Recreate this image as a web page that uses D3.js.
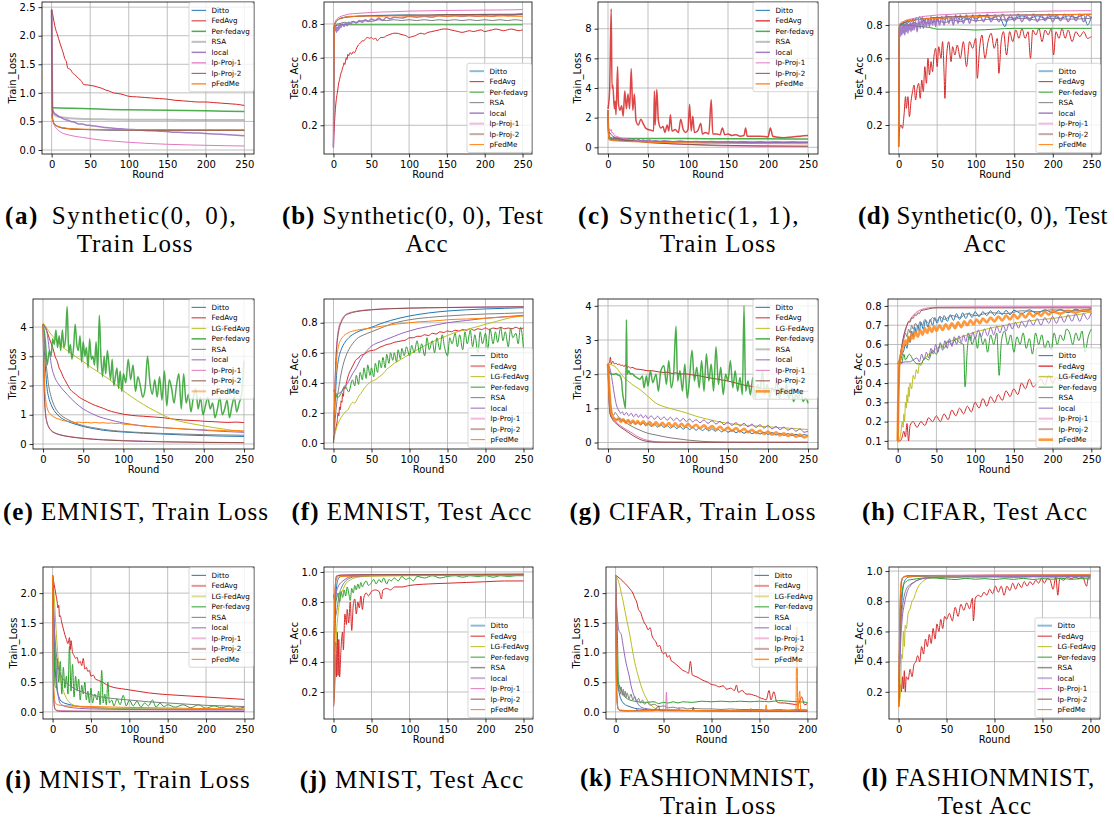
<!DOCTYPE html>
<html>
<head>
<meta charset="utf-8">
<script src="https://cdn.jsdelivr.net/npm/d3@7"></script>
<style>
	body { margin: 0; background: #fff; }
	svg { display: block; }
	.tick text { font-family: "DejaVu Sans", sans-serif; font-size: 10px; fill: #000; }
	.tick line { stroke: #000; stroke-width: 0.8; }
</style>
</head>
<body>
<div id="chart"></div>
<script>

// DATA //

const METHODS_8 = [ 'Ditto', 'FedAvg', 'Per-fedavg', 'RSA', 'local', 'lp-Proj-1', 'lp-Proj-2', 'pFedMe' ];
const METHODS_9 = [ 'Ditto', 'FedAvg', 'LG-FedAvg', 'Per-fedavg', 'RSA', 'local', 'lp-Proj-1', 'lp-Proj-2', 'pFedMe' ];

const X_TICKS_250 = [ 0, 50, 100, 150, 200, 250 ];
const X_TICKS_200 = [ 0, 50, 100, 150, 200 ];
const Y_TICKS_A = [ 0, 0.5, 1, 1.5, 2, 2.5 ];
const Y_TICKS_ACC = [ 0.2, 0.4, 0.6, 0.8 ];
const Y_TICKS_C = [ 0, 2, 4, 6, 8 ];
const Y_TICKS_E = [ 0, 1, 2, 3, 4 ];
const Y_TICKS_F = [ 0, 0.2, 0.4, 0.6, 0.8 ];
const Y_TICKS_H = [ 0.1, 0.2, 0.3, 0.4, 0.5, 0.6, 0.7, 0.8 ];
const Y_TICKS_I = [ 0, 0.5, 1, 1.5, 2 ];
const Y_TICKS_J = [ 0.2, 0.4, 0.6, 0.8, 1.0 ];

// (a) Synthetic(0, 0), Train Loss
const aDitto = [[0,0.62],[2,0.5],[4,0.45],[7,0.42],[10,0.4],[15,0.385],[20,0.375],[30,0.365],[40,0.36],[60,0.355],[80,0.35],[100,0.35],[150,0.348],[200,0.347],[250,0.346]];
const aFedAvg = [[0,2.47],[1,2.4],[3,2.25],[5,2.12],[7,2.04],[9,1.95],[11,1.86],[13,1.78],[15,1.7],[17,1.6],[19,1.55],[21,1.43],[23,1.42],[25,1.4],[27,1.35],[30,1.32],[33,1.28],[35,1.25],[37,1.23],[39,1.2],[41,1.15],[43,1.14],[46,1.14],[50,1.13],[55,1.12],[60,1.1],[65,1.08],[70,1.05],[75,1.03],[80,1.0],[85,0.99],[90,0.98],[95,0.96],[100,0.94],[110,0.93],[120,0.92],[130,0.91],[140,0.9],[150,0.89],[160,0.87],[170,0.86],[180,0.85],[190,0.84],[200,0.84],[210,0.83],[220,0.82],[230,0.81],[240,0.8],[250,0.78]];
const aPerFedavg = [[0,0.74],[10,0.735],[25,0.73],[50,0.72],[75,0.71],[100,0.705],[125,0.7],[150,0.695],[175,0.69],[200,0.685],[225,0.68],[250,0.675]];
const aRSA = [[0,2.45],[1,0.7],[3,0.62],[6,0.6],[10,0.58],[20,0.56],[30,0.55],[50,0.54],[75,0.535],[100,0.53],[150,0.528],[200,0.526],[250,0.525]];
const aLocal = [[0,2.45],[1,0.72],[2,0.68],[4,0.64],[6,0.62],[8,0.6],[10,0.58],[13,0.565],[16,0.54],[20,0.525],[25,0.5],[30,0.485],[35,0.455],[40,0.455],[45,0.435],[50,0.43],[60,0.41],[70,0.395],[80,0.38],[90,0.37],[100,0.36],[110,0.355],[120,0.34],[130,0.338],[140,0.33],[150,0.322],[160,0.31],[170,0.308],[180,0.3],[190,0.296],[200,0.29],[210,0.282],[220,0.275],[230,0.268],[240,0.26],[250,0.25]];
const aLp1 = [[0,2.45],[1,0.55],[2,0.48],[4,0.42],[6,0.38],[10,0.33],[15,0.29],[20,0.27],[25,0.255],[30,0.24],[40,0.22],[50,0.2],[60,0.18],[75,0.16],[100,0.135],[125,0.115],[150,0.1],[175,0.09],[200,0.082],[225,0.075],[250,0.07]];
const aLp2 = [[0,2.45],[1,0.6],[2,0.5],[4,0.445],[7,0.415],[10,0.398],[15,0.383],[20,0.373],[30,0.363],[40,0.358],[60,0.353],[80,0.349],[100,0.348],[150,0.346],[200,0.345],[250,0.344]];
const aPFedMe = [[0,0.62],[1,0.55],[2,0.5],[4,0.45],[7,0.42],[10,0.405],[15,0.39],[20,0.38],[30,0.37],[40,0.365],[60,0.36],[80,0.358],[100,0.356],[150,0.355],[200,0.354],[250,0.353]];

// (b) Synthetic(0, 0), Test Acc
const bDitto = [[0,0.07],[1,0.78],[3,0.81],[5,0.82],[8,0.83],[12,0.835],[16,0.84],[20,0.842],[30,0.845],[40,0.848],[50,0.85],[75,0.852],[100,0.853],[125,0.85],[150,0.855],[175,0.852],[200,0.856],[225,0.853],[250,0.855]];
const bFedAvg = [[0,0.07],[1,0.18],[2,0.26],[3,0.32],[4,0.36],[5,0.39],[6,0.42],[7,0.45],[8,0.47],[9,0.49],[10,0.51],[11,0.52],[12,0.54],[13,0.55],[14,0.57],[15,0.56],[16,0.58],[17,0.6],[18,0.59],[19,0.62],[20,0.61],[22,0.63],[24,0.62],[26,0.635],[28,0.63],[30,0.65],[32,0.67],[34,0.68],[36,0.69],[38,0.7],[40,0.7],[42,0.71],[45,0.72],[48,0.715],[50,0.72],[53,0.71],[56,0.715],[58,0.7],[60,0.71],[63,0.72],[66,0.72],[70,0.73],[73,0.735],[76,0.74],[80,0.745],[84,0.745],[88,0.74],[92,0.735],[96,0.73],[100,0.72],[104,0.725],[108,0.73],[112,0.74],[116,0.745],[120,0.74],[125,0.75],[130,0.755],[135,0.76],[140,0.765],[145,0.77],[150,0.77],[155,0.765],[160,0.76],[165,0.755],[170,0.75],[175,0.755],[180,0.76],[185,0.755],[190,0.76],[195,0.765],[200,0.755],[205,0.76],[210,0.765],[215,0.77],[220,0.765],[225,0.76],[230,0.765],[235,0.77],[240,0.765],[245,0.76],[250,0.765]];
const bPerFedavg = [[0,0.07],[1,0.78],[3,0.79],[10,0.795],[50,0.795],[100,0.795],[150,0.795],[200,0.795],[250,0.795]];
const bRSA = [[0,0.07],[1,0.78],[3,0.795],[6,0.8],[10,0.805],[15,0.81],[20,0.805],[25,0.815],[30,0.81],[40,0.82],[50,0.815],[60,0.825],[70,0.82],[80,0.825],[90,0.82],[100,0.825],[110,0.82],[120,0.825],[130,0.82],[140,0.825],[150,0.82],[160,0.825],[170,0.82],[180,0.825],[190,0.82],[200,0.825],[210,0.82],[220,0.825],[230,0.82],[240,0.825],[250,0.82]];
const bLocal = [[0,0.07],[1,0.78],[2,0.76],[3,0.79],[4,0.75],[5,0.78],[6,0.76],[7,0.79],[8,0.77],[9,0.8],[10,0.78],[12,0.8],[14,0.785],[16,0.805],[18,0.79],[20,0.81],[23,0.8],[26,0.815],[30,0.805],[34,0.82],[38,0.81],[42,0.825],[46,0.815],[50,0.83],[55,0.82],[60,0.835],[65,0.82],[70,0.84],[75,0.83],[80,0.84],[90,0.835],[100,0.845],[110,0.84],[120,0.845],[130,0.84],[140,0.85],[150,0.845],[160,0.85],[170,0.845],[180,0.85],[190,0.845],[200,0.85],[210,0.845],[220,0.855],[230,0.85],[240,0.855],[250,0.86]];
const bLp1 = [[0,0.07],[1,0.79],[3,0.82],[6,0.835],[10,0.845],[15,0.852],[20,0.858],[30,0.862],[40,0.865],[50,0.868],[75,0.872],[100,0.876],[125,0.878],[150,0.88],[175,0.881],[200,0.882],[225,0.883],[250,0.885]];
const bLp2 = [[0,0.07],[1,0.79],[3,0.81],[6,0.825],[10,0.835],[20,0.842],[30,0.845],[50,0.848],[100,0.852],[150,0.855],[200,0.857],[250,0.858]];
const bPFedMe = [[0,0.07],[1,0.79],[3,0.81],[6,0.825],[10,0.835],[15,0.84],[20,0.845],[30,0.846],[40,0.848],[60,0.845],[80,0.848],[100,0.846],[125,0.848],[150,0.846],[175,0.848],[200,0.846],[225,0.847],[250,0.845]];

// (c) Synthetic(1, 1), Train Loss
const cDitto = [[0,2.5],[1,0.6],[3,0.55],[6,0.52],[10,0.5],[20,0.47],[30,0.45],[50,0.42],[75,0.4],[100,0.38],[150,0.36],[200,0.35],[250,0.35]];
const cFedAvg = [[0,2.6],[2,3.8],[4,9.35],[5,4.0],[6,4.2],[8,2.6],[9,3.1],[10,2.2],[12,5.45],[13,3.0],[15,2.5],[17,2.8],[19,2.1],[21,3.8],[23,2.6],[25,3.6],[27,2.6],[29,5.3],[31,2.5],[33,3.6],[35,1.8],[38,1.5],[41,1.9],[44,1.6],[47,1.3],[50,1.2],[54,1.15],[57,1.1],[58,3.8],[59,1.5],[61,3.9],[63,1.8],[66,1.3],[69,1.4],[71,1.0],[74,1.5],[76,1.1],[78,2.2],[80,1.1],[84,1.2],[88,1.0],[91,1.9],[94,1.2],[97,1.0],[100,1.2],[102,2.9],[104,1.1],[106,2.1],[108,1.0],[112,1.1],[116,1.6],[118,0.9],[122,1.0],[126,0.9],[129,3.2],[131,0.9],[136,0.9],[140,0.85],[143,1.3],[146,0.85],[150,0.9],[155,0.8],[160,0.85],[165,0.75],[170,0.8],[172,1.3],[174,0.75],[180,0.75],[190,0.75],[200,0.7],[203,1.3],[206,0.75],[210,0.7],[220,0.65],[230,0.7],[240,0.75],[250,0.8]];
const cPerFedavg = [[0,2.5],[1,0.65],[3,0.62],[10,0.61],[50,0.6],[100,0.59],[150,0.58],[200,0.57],[250,0.56]];
const cRSA = [[0,2.5],[1,0.6],[3,0.55],[5,0.5],[10,0.48],[20,0.45],[30,0.43],[50,0.4],[75,0.38],[100,0.36],[150,0.34],[200,0.33],[250,0.33]];
const cLocal = [[0,2.5],[1,0.9],[2,0.7],[4,0.65],[6,0.55],[8,0.68],[10,0.52],[12,0.66],[14,0.5],[16,0.62],[18,0.48],[20,0.6],[23,0.47],[26,0.58],[29,0.45],[32,0.56],[35,0.44],[38,0.55],[41,0.42],[44,0.5],[47,0.41],[50,0.48],[55,0.4],[60,0.45],[65,0.38],[70,0.44],[80,0.38],[90,0.42],[100,0.36],[110,0.4],[120,0.35],[130,0.39],[140,0.34],[150,0.38],[160,0.34],[170,0.37],[180,0.33],[190,0.37],[200,0.33],[210,0.36],[220,0.32],[230,0.36],[240,0.32],[250,0.35]];
const cLp1 = [[0,2.5],[1,1.0],[2,1.25],[3,1.1],[4,1.2],[5,0.95],[6,1.0],[8,0.8],[10,0.75],[12,0.72],[15,0.65],[18,0.6],[22,0.58],[26,0.52],[30,0.5],[35,0.45],[40,0.42],[45,0.38],[50,0.35],[52,0.6],[54,0.32],[60,0.3],[70,0.27],[80,0.23],[90,0.21],[100,0.18],[110,0.16],[120,0.14],[130,0.12],[140,0.1],[150,0.09],[170,0.08],[190,0.06],[210,0.06],[230,0.05],[250,0.05]];
const cLp2 = [[0,2.5],[1,0.9],[2,1.0],[4,0.85],[6,0.75],[10,0.62],[15,0.55],[20,0.5],[30,0.44],[40,0.38],[50,0.32],[60,0.29],[75,0.25],[100,0.2],[125,0.16],[150,0.13],[175,0.11],[200,0.1],[225,0.09],[250,0.08]];
const cPFedMe = [[0,2.5],[1,0.5],[3,0.47],[6,0.45],[10,0.43],[20,0.4],[30,0.38],[50,0.35],[75,0.32],[100,0.3],[125,0.28],[150,0.27],[175,0.26],[200,0.25],[250,0.24]];

// (d) Synthetic(0, 0), Test Acc
const dDitto = [[0,0.07],[1,0.79],[3,0.81],[5,0.8],[7,0.82],[9,0.81],[11,0.83],[13,0.815],[15,0.835],[17,0.82],[19,0.84],[21,0.825],[23,0.845],[25,0.83],[27,0.85],[29,0.835],[31,0.845],[33,0.82],[36,0.84],[40,0.83],[45,0.845],[50,0.83],[55,0.845],[60,0.835],[65,0.85],[70,0.835],[75,0.85],[80,0.83],[85,0.845],[90,0.835],[95,0.85],[100,0.84],[110,0.855],[120,0.84],[130,0.855],[138,0.79],[142,0.845],[150,0.84],[160,0.855],[170,0.84],[180,0.855],[190,0.84],[200,0.855],[210,0.84],[220,0.855],[230,0.845],[240,0.86],[245,0.8],[250,0.85]];
const dFedAvg = [[0,0.1],[1,0.17],[3,0.2],[5,0.18],[7,0.26],[9,0.37],[10,0.3],[12,0.37],[14,0.25],[16,0.34],[18,0.4],[20,0.44],[22,0.35],[24,0.42],[26,0.45],[28,0.36],[30,0.47],[32,0.4],[34,0.55],[36,0.45],[38,0.6],[40,0.5],[42,0.58],[44,0.52],[46,0.62],[48,0.66],[50,0.55],[52,0.67],[55,0.6],[57,0.7],[59,0.5],[60,0.36],[62,0.6],[65,0.7],[68,0.58],[70,0.67],[73,0.62],[76,0.68],[80,0.6],[84,0.7],[88,0.55],[92,0.7],[96,0.66],[100,0.72],[102,0.48],[105,0.66],[108,0.74],[112,0.6],[116,0.7],[120,0.75],[124,0.66],[128,0.72],[130,0.51],[133,0.7],[136,0.76],[140,0.62],[144,0.76],[148,0.7],[152,0.77],[156,0.72],[160,0.78],[164,0.72],[168,0.76],[171,0.6],[174,0.77],[178,0.74],[182,0.78],[186,0.7],[190,0.77],[194,0.74],[198,0.78],[201,0.62],[204,0.76],[208,0.72],[212,0.78],[216,0.72],[220,0.77],[225,0.7],[230,0.76],[235,0.73],[240,0.76],[245,0.72],[250,0.73]];
const dPerFedavg = [[0,0.07],[1,0.79],[3,0.8],[10,0.8],[20,0.795],[30,0.79],[40,0.785],[45,0.78],[50,0.775],[75,0.775],[100,0.77],[125,0.775],[150,0.78],[175,0.78],[200,0.78],[225,0.78],[250,0.78]];
const dRSA = [[0,0.07],[1,0.78],[3,0.8],[6,0.79],[10,0.81],[15,0.8],[20,0.815],[25,0.805],[30,0.82],[40,0.81],[50,0.825],[60,0.815],[70,0.83],[80,0.82],[90,0.835],[100,0.825],[120,0.835],[140,0.83],[160,0.84],[180,0.83],[200,0.84],[220,0.835],[250,0.84]];
const dLocal = [[0,0.07],[1,0.76],[2,0.73],[3,0.8],[4,0.74],[5,0.79],[6,0.75],[7,0.81],[8,0.74],[9,0.8],[10,0.76],[11,0.82],[12,0.75],[13,0.8],[14,0.77],[15,0.82],[16,0.76],[17,0.81],[18,0.77],[19,0.83],[20,0.77],[22,0.82],[24,0.76],[26,0.83],[28,0.78],[30,0.84],[32,0.78],[34,0.83],[36,0.79],[38,0.84],[40,0.79],[42,0.85],[44,0.8],[46,0.84],[48,0.79],[50,0.85],[53,0.8],[56,0.85],[59,0.8],[62,0.86],[65,0.81],[68,0.85],[71,0.8],[74,0.86],[77,0.81],[80,0.86],[84,0.81],[88,0.86],[92,0.81],[96,0.86],[100,0.82],[105,0.86],[110,0.82],[115,0.865],[120,0.82],[125,0.86],[130,0.82],[135,0.865],[140,0.82],[145,0.86],[150,0.825],[155,0.865],[160,0.82],[165,0.86],[170,0.825],[175,0.865],[180,0.82],[185,0.86],[190,0.825],[195,0.865],[200,0.82],[205,0.86],[210,0.825],[215,0.865],[220,0.82],[225,0.86],[230,0.825],[235,0.865],[240,0.82],[245,0.86],[250,0.84]];
const dLp1 = [[0,0.07],[1,0.8],[3,0.815],[6,0.82],[10,0.83],[15,0.835],[20,0.84],[25,0.845],[30,0.85],[40,0.855],[50,0.86],[60,0.862],[70,0.865],[80,0.868],[90,0.87],[100,0.872],[120,0.875],[140,0.878],[160,0.88],[180,0.882],[200,0.884],[225,0.885],[250,0.886]];
const dLp2 = [[0,0.07],[1,0.79],[3,0.805],[6,0.81],[10,0.82],[20,0.83],[30,0.835],[50,0.845],[75,0.85],[100,0.855],[150,0.86],[200,0.862],[250,0.865]];
const dPFedMe = [[0,0.07],[1,0.8],[3,0.81],[6,0.82],[10,0.825],[20,0.83],[30,0.835],[50,0.84],[75,0.845],[100,0.85],[125,0.855],[150,0.857],[175,0.858],[200,0.86],[225,0.862],[250,0.864]];

// (e) EMNIST, Train Loss
const eDitto = [[0,4.1],[2,3.0],[3,2.6],[5,1.9],[7,1.6],[10,1.35],[15,1.1],[20,0.95],[25,0.85],[30,0.78],[40,0.68],[50,0.6],[60,0.54],[75,0.47],[100,0.41],[125,0.37],[150,0.34],[175,0.31],[200,0.29],[225,0.27],[250,0.26]];
const eFedAvg = [[0,4.1],[3,4.0],[5,3.85],[8,3.6],[10,3.45],[12,3.3],[15,3.0],[18,2.8],[20,2.6],[22,2.5],[25,2.3],[27,2.2],[30,2.05],[33,1.9],[36,1.8],[40,1.72],[45,1.6],[50,1.52],[55,1.45],[60,1.38],[65,1.32],[70,1.27],[75,1.22],[80,1.16],[90,1.08],[100,1.02],[110,0.98],[125,0.95],[140,0.92],[150,0.9],[160,0.86],[175,0.82],[190,0.8],[200,0.78],[215,0.76],[230,0.74],[240,0.75],[250,0.73]];
const eLG = [[0,4.15],[5,3.95],[10,3.75],[15,3.6],[20,3.45],[25,3.3],[30,3.2],[40,3.0],[50,2.82],[60,2.62],[75,2.35],[90,2.05],[100,1.82],[110,1.62],[125,1.35],[140,1.12],[150,0.98],[160,0.86],[175,0.75],[190,0.67],[200,0.62],[215,0.55],[230,0.49],[240,0.45],[250,0.42]];
const ePerFedavg = [[0,4.1],[3,3.5],[5,2.7],[8,3.2],[10,3.0],[12,3.6],[14,3.4],[16,3.9],[18,3.3],[20,3.7],[22,3.2],[24,3.9],[26,3.3],[28,3.6],[30,4.7],[32,3.1],[34,3.4],[36,2.9],[38,3.3],[40,4.1],[42,3.4],[44,3.2],[46,3.7],[48,2.8],[50,3.5],[52,3.0],[54,3.3],[56,2.6],[58,3.6],[60,2.9],[62,3.0],[64,2.7],[66,3.5],[68,2.5],[70,4.4],[72,3.0],[74,2.3],[76,3.0],[78,2.4],[80,3.2],[82,2.7],[84,2.2],[86,2.9],[88,2.0],[90,2.3],[92,2.6],[94,1.9],[96,2.5],[98,1.8],[100,2.4],[103,2.1],[106,2.9],[109,2.2],[112,2.7],[115,1.8],[118,2.3],[121,2.0],[124,1.6],[127,1.9],[130,3.0],[133,2.1],[136,1.7],[139,2.2],[142,1.6],[145,2.3],[148,1.5],[151,2.5],[154,1.3],[157,2.2],[160,1.9],[163,1.4],[166,2.0],[169,2.4],[172,1.2],[175,2.4],[178,1.4],[181,1.7],[184,1.1],[187,1.6],[190,1.9],[193,1.2],[196,1.6],[199,1.0],[202,1.3],[205,1.6],[208,1.2],[211,1.4],[214,0.9],[217,1.2],[220,1.6],[223,1.0],[226,1.2],[229,1.5],[232,0.9],[235,1.3],[238,1.6],[241,1.1],[244,1.4],[247,1.7],[250,2.85]];
const eRSA = [[0,4.1],[2,3.4],[3,3.0],[5,2.45],[7,2.0],[10,1.62],[15,1.25],[20,1.05],[25,0.93],[30,0.85],[40,0.72],[50,0.63],[60,0.57],[75,0.5],[100,0.43],[125,0.39],[150,0.36],[175,0.34],[200,0.32],[225,0.31],[250,0.3]];
const eLocal = [[0,4.1],[3,3.95],[5,3.8],[7,3.4],[9,2.95],[11,2.6],[13,2.4],[15,2.25],[18,2.1],[20,2.02],[25,1.85],[30,1.7],[35,1.55],[40,1.42],[45,1.3],[50,1.2],[55,1.12],[60,1.05],[70,0.93],[80,0.85],[90,0.78],[100,0.72],[125,0.62],[150,0.56],[175,0.51],[200,0.47],[225,0.43],[250,0.4]];
const eLp1 = [[0,4.1],[1,2.5],[2,1.5],[3,1.1],[5,0.75],[7,0.6],[10,0.48],[15,0.38],[20,0.33],[30,0.27],[40,0.23],[50,0.2],[75,0.15],[100,0.12],[125,0.1],[150,0.08],[175,0.07],[200,0.06],[225,0.055],[250,0.05]];
const eLp2 = [[0,4.1],[1,2.4],[2,1.45],[3,1.05],[5,0.72],[7,0.58],[10,0.46],[15,0.37],[20,0.32],[30,0.26],[40,0.22],[50,0.19],[75,0.14],[100,0.11],[150,0.075],[200,0.055],[250,0.045]];
const ePFedMe = [[0,4.1],[1,3.0],[2,2.0],[3,1.6],[5,1.25],[7,1.1],[10,1.0],[15,0.9],[20,0.85],[25,0.8],[30,0.78],[35,0.76],[40,0.74],[45,0.75],[50,0.73],[55,0.74],[60,0.72],[65,0.74],[70,0.72],[75,0.73],[80,0.71],[85,0.72],[90,0.7],[95,0.71],[100,0.68],[110,0.66],[120,0.63],[130,0.6],[140,0.58],[150,0.56],[160,0.54],[170,0.53],[180,0.51],[190,0.5],[200,0.49],[210,0.47],[220,0.47],[230,0.45],[240,0.46],[250,0.45]];

// (f) EMNIST, Test Acc
const fDitto = [[0,0.0],[2,0.25],[4,0.45],[6,0.54],[8,0.59],[10,0.62],[15,0.67],[20,0.7],[30,0.735],[40,0.755],[50,0.77],[60,0.79],[75,0.815],[100,0.845],[125,0.865],[150,0.878],[175,0.886],[200,0.892],[225,0.896],[250,0.9]];
const fFedAvg = [[0,0.05],[2,0.08],[4,0.12],[5,0.15],[6,0.2],[7,0.18],[8,0.24],[9,0.22],[10,0.28],[11,0.27],[12,0.33],[13,0.31],[14,0.37],[15,0.36],[17,0.4],[19,0.44],[21,0.47],[23,0.49],[25,0.51],[27,0.53],[29,0.55],[31,0.56],[33,0.565],[35,0.58],[37,0.585],[40,0.59],[43,0.6],[46,0.61],[50,0.615],[55,0.62],[60,0.635],[65,0.645],[70,0.655],[75,0.66],[80,0.67],[85,0.675],[90,0.68],[95,0.685],[100,0.7],[105,0.7],[110,0.71],[115,0.71],[120,0.72],[125,0.715],[130,0.73],[135,0.725],[140,0.74],[145,0.735],[150,0.745],[155,0.74],[160,0.75],[165,0.745],[170,0.755],[175,0.75],[180,0.76],[185,0.75],[190,0.76],[195,0.755],[200,0.765],[205,0.755],[210,0.765],[215,0.76],[220,0.77],[225,0.76],[230,0.765],[235,0.76],[240,0.77],[245,0.76],[250,0.765]];
const fLG = [[0,0.02],[2,0.06],[4,0.1],[6,0.13],[8,0.15],[10,0.17],[13,0.19],[16,0.21],[19,0.22],[22,0.25],[25,0.27],[28,0.265],[30,0.28],[33,0.31],[36,0.33],[40,0.36],[45,0.39],[50,0.41],[55,0.42],[60,0.44],[65,0.46],[70,0.49],[75,0.51],[80,0.53],[90,0.56],[100,0.59],[110,0.62],[125,0.66],[140,0.695],[150,0.715],[160,0.735],[175,0.755],[190,0.775],[200,0.79],[215,0.81],[230,0.83],[240,0.84],[250,0.846]];
const fPerFedavg = [[0,0.35],[3,0.33],[5,0.3],[10,0.33],[15,0.38],[20,0.34],[25,0.42],[28,0.38],[30,0.45],[33,0.39],[35,0.47],[38,0.42],[40,0.5],[43,0.43],[45,0.52],[48,0.45],[50,0.5],[53,0.44],[55,0.53],[58,0.47],[60,0.55],[63,0.5],[65,0.57],[68,0.5],[70,0.59],[73,0.53],[75,0.6],[78,0.55],[80,0.6],[83,0.54],[85,0.62],[88,0.56],[90,0.63],[93,0.58],[96,0.64],[100,0.58],[103,0.65],[106,0.6],[110,0.68],[113,0.6],[116,0.66],[120,0.58],[123,0.7],[126,0.62],[130,0.68],[133,0.6],[136,0.7],[140,0.62],[143,0.72],[146,0.64],[150,0.58],[153,0.7],[156,0.66],[160,0.73],[163,0.64],[166,0.72],[170,0.62],[173,0.74],[176,0.66],[180,0.75],[183,0.64],[186,0.72],[190,0.6],[193,0.74],[196,0.66],[200,0.73],[203,0.62],[206,0.76],[210,0.66],[213,0.74],[216,0.67],[220,0.77],[223,0.68],[226,0.74],[230,0.64],[233,0.76],[236,0.7],[240,0.73],[243,0.66],[246,0.77],[248,0.73],[250,0.62]];
const fRSA = [[0,0.0],[3,0.2],[5,0.3],[8,0.4],[10,0.46],[15,0.56],[20,0.62],[25,0.66],[30,0.69],[40,0.72],[50,0.74],[60,0.76],[75,0.79],[100,0.82],[125,0.835],[150,0.845],[175,0.853],[200,0.858],[225,0.862],[250,0.866]];
const fLocal = [[0,0.35],[3,0.33],[5,0.325],[7,0.33],[10,0.34],[13,0.36],[16,0.38],[20,0.41],[25,0.46],[30,0.5],[35,0.55],[40,0.59],[45,0.62],[50,0.645],[55,0.66],[60,0.67],[70,0.69],[80,0.71],[90,0.73],[100,0.745],[110,0.76],[125,0.775],[150,0.8],[175,0.815],[200,0.83],[225,0.84],[250,0.85]];
const fLp1 = [[0,0.0],[1,0.2],[2,0.4],[3,0.55],[4,0.64],[5,0.7],[7,0.77],[10,0.81],[13,0.84],[16,0.855],[20,0.865],[25,0.872],[30,0.877],[40,0.884],[50,0.888],[75,0.894],[100,0.898],[125,0.9],[150,0.902],[200,0.905],[250,0.907]];
const fLp2 = [[0,0.0],[1,0.18],[2,0.37],[3,0.52],[4,0.62],[5,0.68],[7,0.75],[10,0.8],[13,0.83],[16,0.85],[20,0.86],[30,0.874],[40,0.881],[50,0.886],[100,0.897],[150,0.901],[200,0.904],[250,0.906]];
const fPFedMe = [[0,0.05],[2,0.35],[4,0.55],[6,0.63],[8,0.67],[10,0.69],[15,0.72],[20,0.735],[30,0.75],[40,0.758],[50,0.765],[60,0.775],[70,0.78],[80,0.79],[90,0.795],[100,0.8],[110,0.805],[125,0.81],[140,0.815],[150,0.82],[175,0.825],[200,0.83],[225,0.838],[250,0.845]];

// (g) CIFAR, Train Loss
const gDitto = [[0,2.3],[2,1.0],[3,0.8],[5,0.72],[8,0.7],[11,0.66],[14,0.7],[17,0.62],[20,0.67],[23,0.58],[26,0.64],[29,0.55],[32,0.62],[35,0.53],[38,0.6],[41,0.51],[44,0.58],[47,0.49],[50,0.56],[54,0.47],[58,0.54],[62,0.45],[66,0.52],[70,0.44],[74,0.5],[78,0.42],[82,0.48],[86,0.41],[90,0.47],[94,0.39],[98,0.45],[102,0.38],[106,0.44],[110,0.36],[114,0.42],[118,0.35],[122,0.41],[126,0.34],[130,0.4],[134,0.33],[138,0.38],[142,0.31],[146,0.37],[150,0.3],[155,0.36],[160,0.29],[165,0.34],[170,0.27],[175,0.33],[180,0.26],[185,0.31],[190,0.25],[195,0.3],[200,0.24],[205,0.29],[210,0.22],[215,0.27],[220,0.21],[225,0.26],[230,0.2],[235,0.24],[240,0.18],[245,0.23],[250,0.2]];
const gFedAvg = [[0,2.3],[2,2.35],[3,2.5],[4,2.3],[6,2.38],[8,2.3],[10,2.32],[12,2.28],[14,2.3],[16,2.25],[18,2.27],[20,2.22],[22,2.28],[24,2.2],[26,2.22],[28,2.18],[30,2.2],[35,2.15],[40,2.14],[45,2.12],[50,2.1],[55,2.1],[60,2.08],[65,2.06],[70,2.05],[75,2.06],[80,2.02],[85,2.04],[90,2.0],[95,2.01],[100,2.0],[105,1.98],[110,1.96],[115,1.95],[120,1.92],[125,1.9],[130,1.88],[135,1.86],[140,1.84],[145,1.82],[150,1.8],[155,1.77],[160,1.74],[165,1.71],[170,1.68],[175,1.66],[180,1.64],[185,1.62],[190,1.6],[195,1.58],[200,1.58],[205,1.56],[210,1.55],[215,1.56],[220,1.54],[225,1.55],[230,1.53],[235,1.52],[240,1.52],[245,1.5],[250,1.5]];
const gLG = [[0,2.3],[5,2.27],[10,2.2],[15,2.05],[20,1.9],[25,1.8],[30,1.7],[40,1.55],[50,1.35],[60,1.15],[70,1.05],[80,0.98],[90,0.92],[100,0.85],[110,0.77],[125,0.68],[140,0.6],[150,0.56],[175,0.5],[200,0.46],[225,0.42],[250,0.38]];
const gPerFedavg = [[0,2.3],[2,2.05],[5,2.0],[8,2.0],[10,2.02],[12,1.98],[15,1.95],[17,1.8],[18,1.5],[20,1.2],[22,1.0],[23,3.6],[24,2.0],[26,2.1],[28,2.0],[30,2.02],[33,1.95],[36,1.9],[40,1.85],[43,1.95],[45,1.6],[48,1.95],[50,1.65],[53,2.1],[56,1.75],[60,2.0],[63,1.5],[66,2.1],[70,2.25],[73,1.7],[76,2.4],[79,1.6],[82,2.0],[85,3.4],[87,1.8],[90,2.1],[93,1.5],[96,2.3],[99,1.3],[102,1.9],[105,2.7],[108,1.8],[111,2.2],[114,1.6],[117,2.4],[120,1.5],[123,2.6],[126,1.8],[129,2.3],[132,1.5],[135,2.8],[138,1.7],[141,2.2],[144,1.4],[147,2.0],[150,1.8],[153,2.4],[156,1.6],[159,2.1],[162,1.5],[165,1.9],[168,1.4],[170,4.0],[172,1.5],[175,1.8],[178,1.4],[181,1.9],[184,1.3],[187,1.7],[190,1.5],[193,2.1],[196,1.4],[199,1.7],[202,1.3],[205,1.6],[208,1.5],[211,1.8],[214,1.3],[217,1.6],[220,1.4],[223,1.7],[226,1.3],[229,1.5],[232,1.2],[235,1.4],[238,1.3],[241,1.5],[244,1.2],[247,1.3],[250,1.15]];
const gRSA = [[0,2.3],[3,1.2],[5,0.85],[7,0.8],[9,0.88],[11,0.82],[13,0.75],[16,0.7],[20,0.62],[25,0.54],[30,0.47],[35,0.41],[40,0.36],[45,0.31],[50,0.27],[60,0.22],[70,0.17],[80,0.13],[90,0.1],[100,0.07],[110,0.05],[120,0.03],[130,0.02],[150,0.01],[200,0.005],[250,0.005]];
const gLocal = [[0,2.3],[2,2.2],[4,2.0],[6,1.7],[8,1.4],[10,1.15],[12,1.0],[14,0.92],[16,0.85],[18,0.9],[20,0.8],[23,0.88],[26,0.78],[29,0.86],[32,0.75],[35,0.84],[38,0.74],[41,0.82],[44,0.72],[47,0.8],[50,0.7],[54,0.78],[58,0.68],[62,0.77],[66,0.67],[70,0.75],[74,0.65],[78,0.74],[82,0.64],[86,0.72],[90,0.62],[94,0.71],[98,0.61],[102,0.69],[106,0.6],[110,0.67],[115,0.58],[120,0.66],[125,0.56],[130,0.64],[135,0.54],[140,0.62],[145,0.52],[150,0.6],[155,0.5],[160,0.58],[165,0.48],[170,0.56],[175,0.46],[180,0.54],[185,0.44],[190,0.52],[195,0.42],[200,0.5],[205,0.4],[210,0.47],[215,0.38],[220,0.45],[225,0.36],[230,0.42],[235,0.33],[240,0.4],[245,0.3],[250,0.33]];
const gLp1 = [[0,2.3],[2,1.0],[4,0.78],[6,0.7],[8,0.65],[10,0.6],[15,0.5],[20,0.42],[25,0.35],[30,0.28],[35,0.2],[40,0.14],[45,0.09],[50,0.06],[55,0.04],[60,0.02],[70,0.01],[100,0.005],[250,0.005]];
const gLp2 = [[0,2.3],[2,0.95],[4,0.75],[6,0.66],[8,0.6],[10,0.56],[15,0.46],[20,0.38],[25,0.3],[30,0.22],[35,0.15],[40,0.09],[45,0.05],[50,0.03],[60,0.01],[100,0.005],[250,0.005]];
const gPFedMe = [[0,2.3],[3,1.1],[5,0.8],[8,0.7],[10,0.65],[13,0.7],[16,0.6],[19,0.68],[22,0.58],[25,0.66],[28,0.56],[31,0.64],[34,0.55],[37,0.63],[40,0.54],[44,0.62],[48,0.52],[52,0.6],[56,0.5],[60,0.59],[64,0.49],[68,0.58],[72,0.48],[76,0.57],[80,0.47],[84,0.56],[88,0.46],[92,0.55],[96,0.45],[100,0.54],[105,0.44],[110,0.52],[115,0.42],[120,0.5],[125,0.4],[130,0.48],[135,0.38],[140,0.46],[145,0.36],[150,0.44],[155,0.34],[160,0.42],[165,0.32],[170,0.4],[175,0.3],[180,0.37],[185,0.28],[190,0.35],[195,0.25],[200,0.32],[205,0.23],[210,0.3],[215,0.21],[220,0.27],[225,0.19],[230,0.25],[235,0.17],[240,0.23],[245,0.15],[250,0.2]];

// (h) CIFAR, Test Acc
const hDitto = [[0,0.1],[2,0.48],[4,0.52],[6,0.55],[8,0.57],[10,0.6],[12,0.58],[14,0.64],[16,0.61],[18,0.67],[20,0.64],[22,0.69],[24,0.66],[26,0.7],[28,0.67],[30,0.715],[33,0.68],[36,0.725],[39,0.69],[42,0.73],[45,0.7],[48,0.74],[51,0.71],[54,0.745],[57,0.715],[60,0.75],[64,0.72],[68,0.755],[72,0.725],[76,0.76],[80,0.73],[84,0.765],[88,0.735],[92,0.765],[96,0.74],[100,0.77],[105,0.745],[110,0.77],[115,0.75],[120,0.775],[125,0.75],[130,0.775],[135,0.755],[140,0.777],[145,0.755],[150,0.778],[160,0.76],[170,0.78],[180,0.76],[190,0.78],[200,0.765],[210,0.782],[220,0.765],[230,0.783],[240,0.77],[250,0.785]];
const hFedAvg = [[0,0.1],[3,0.1],[5,0.11],[8,0.15],[10,0.12],[12,0.19],[14,0.1],[16,0.18],[20,0.2],[25,0.17],[30,0.2],[35,0.18],[40,0.22],[45,0.2],[50,0.23],[55,0.2],[60,0.24],[65,0.21],[70,0.26],[75,0.23],[80,0.27],[85,0.24],[90,0.28],[95,0.25],[100,0.3],[105,0.27],[110,0.32],[115,0.28],[120,0.33],[125,0.3],[130,0.34],[135,0.31],[140,0.36],[145,0.33],[150,0.37],[155,0.34],[160,0.4],[165,0.37],[170,0.42],[175,0.38],[180,0.4],[185,0.42],[190,0.39],[195,0.44],[200,0.4],[205,0.43],[210,0.41],[215,0.45],[220,0.42],[225,0.44],[230,0.43],[235,0.46],[240,0.44],[245,0.45],[250,0.44]];
const hLG = [[0,0.09],[2,0.1],[4,0.14],[6,0.2],[7,0.17],[8,0.24],[9,0.2],[10,0.3],[11,0.27],[12,0.34],[13,0.3],[14,0.38],[15,0.33],[16,0.4],[18,0.37],[20,0.44],[22,0.42],[24,0.47],[26,0.45],[28,0.5],[30,0.49],[33,0.52],[36,0.53],[40,0.55],[45,0.56],[50,0.58],[55,0.585],[60,0.6],[70,0.62],[80,0.635],[90,0.65],[100,0.665],[110,0.675],[125,0.69],[140,0.7],[150,0.71],[175,0.725],[200,0.735],[225,0.75],[240,0.76],[250,0.77]];
const hPerFedavg = [[0,0.5],[3,0.52],[5,0.5],[8,0.55],[10,0.52],[15,0.55],[20,0.52],[25,0.5],[30,0.5],[35,0.53],[40,0.52],[45,0.57],[50,0.55],[55,0.6],[60,0.58],[65,0.62],[70,0.6],[75,0.63],[80,0.61],[85,0.6],[87,0.38],[90,0.58],[93,0.65],[96,0.6],[100,0.64],[103,0.58],[106,0.66],[110,0.6],[113,0.63],[116,0.56],[120,0.65],[124,0.6],[128,0.66],[131,0.44],[134,0.62],[138,0.67],[142,0.6],[146,0.65],[150,0.56],[154,0.64],[158,0.6],[162,0.66],[166,0.58],[170,0.63],[174,0.55],[178,0.66],[182,0.6],[186,0.65],[190,0.58],[194,0.62],[198,0.57],[202,0.66],[206,0.6],[210,0.65],[214,0.62],[218,0.68],[222,0.66],[226,0.6],[230,0.66],[234,0.62],[238,0.67],[242,0.56],[246,0.64],[250,0.68]];
const hRSA = [[0,0.1],[2,0.45],[4,0.55],[6,0.6],[8,0.63],[10,0.66],[12,0.64],[14,0.68],[16,0.66],[18,0.7],[20,0.68],[23,0.71],[26,0.69],[29,0.72],[32,0.7],[35,0.73],[40,0.71],[45,0.74],[50,0.72],[55,0.745],[60,0.73],[70,0.75],[80,0.74],[90,0.76],[100,0.75],[120,0.765],[140,0.76],[160,0.775],[180,0.77],[200,0.78],[225,0.775],[250,0.785]];
const hLocal = [[0,0.5],[5,0.505],[10,0.51],[15,0.51],[20,0.52],[25,0.53],[28,0.51],[31,0.55],[34,0.52],[37,0.56],[40,0.53],[43,0.58],[46,0.55],[49,0.6],[52,0.56],[55,0.61],[58,0.57],[61,0.62],[64,0.58],[67,0.63],[70,0.59],[73,0.64],[76,0.6],[79,0.645],[82,0.61],[85,0.65],[88,0.615],[91,0.66],[94,0.62],[97,0.665],[100,0.63],[104,0.675],[108,0.64],[112,0.68],[116,0.645],[120,0.69],[124,0.65],[128,0.695],[132,0.66],[136,0.7],[140,0.67],[144,0.71],[148,0.68],[152,0.715],[156,0.685],[160,0.72],[165,0.69],[170,0.73],[175,0.7],[180,0.735],[185,0.7],[190,0.74],[195,0.71],[200,0.745],[205,0.71],[210,0.75],[215,0.715],[220,0.755],[225,0.72],[230,0.76],[235,0.72],[240,0.76],[245,0.73],[250,0.765]];
const hLp1 = [[0,0.1],[2,0.5],[4,0.55],[6,0.6],[8,0.64],[10,0.67],[12,0.7],[15,0.72],[18,0.74],[21,0.755],[25,0.77],[30,0.78],[35,0.787],[40,0.79],[50,0.793],[75,0.794],[100,0.795],[150,0.795],[200,0.796],[250,0.796]];
const hLp2 = [[0,0.1],[2,0.5],[4,0.56],[6,0.61],[8,0.65],[10,0.68],[12,0.7],[14,0.72],[16,0.715],[18,0.74],[20,0.735],[22,0.755],[24,0.75],[26,0.765],[28,0.76],[30,0.775],[35,0.78],[40,0.785],[50,0.79],[75,0.79],[100,0.79],[150,0.79],[200,0.79],[250,0.79]];
const hPFedMe = [[0,0.1],[2,0.5],[4,0.54],[6,0.58],[8,0.6],[10,0.62],[12,0.6],[14,0.64],[16,0.62],[18,0.655],[20,0.63],[23,0.665],[26,0.64],[29,0.675],[32,0.65],[35,0.685],[38,0.66],[41,0.69],[44,0.665],[47,0.695],[50,0.67],[54,0.7],[58,0.675],[62,0.705],[66,0.68],[70,0.71],[74,0.685],[78,0.715],[82,0.69],[86,0.72],[90,0.7],[94,0.725],[98,0.705],[102,0.73],[106,0.71],[110,0.735],[115,0.715],[120,0.74],[125,0.72],[130,0.745],[135,0.725],[140,0.75],[145,0.73],[150,0.755],[155,0.735],[160,0.76],[165,0.74],[170,0.765],[175,0.745],[180,0.765],[185,0.75],[190,0.77],[195,0.755],[200,0.772],[210,0.76],[220,0.775],[230,0.765],[240,0.778],[250,0.77]];

// (i) MNIST, Train Loss
const iDitto = [[0,2.3],[1,1.8],[2,1.2],[3,0.85],[4,0.6],[5,0.45],[6,0.35],[8,0.26],[10,0.2],[15,0.15],[20,0.13],[30,0.1],[50,0.075],[75,0.06],[100,0.05],[150,0.045],[200,0.04],[250,0.04]];
const iFedAvg = [[0,2.3],[2,2.15],[4,2.0],[6,1.85],[7,1.75],[8,1.8],[9,1.6],[10,1.62],[12,1.5],[14,1.4],[16,1.3],[18,1.22],[20,1.15],[22,1.25],[23,1.05],[24,1.2],[26,1.0],[28,0.95],[30,0.9],[32,0.92],[34,0.82],[36,0.85],[38,0.78],[40,0.9],[42,0.72],[44,0.75],[46,0.68],[48,0.7],[50,0.6],[53,0.62],[56,0.55],[60,0.53],[65,0.5],[70,0.46],[75,0.43],[80,0.41],[90,0.39],[100,0.37],[110,0.35],[125,0.32],[140,0.3],[150,0.29],[175,0.27],[200,0.25],[225,0.23],[250,0.21]];
const iLG = [[0,2.3],[1,2.15],[2,1.95],[3,1.75],[4,1.5],[5,1.3],[6,1.1],[8,0.8],[10,0.58],[12,0.45],[15,0.32],[18,0.23],[20,0.19],[25,0.13],[30,0.1],[40,0.08],[50,0.07],[100,0.05],[150,0.045],[250,0.04]];
const iPerFedavg = [[0,2.3],[2,1.2],[3,0.45],[5,0.4],[6,0.9],[8,0.5],[10,0.85],[12,0.3],[14,0.75],[16,0.4],[18,0.6],[20,0.3],[22,1.1],[24,0.35],[26,0.8],[28,0.25],[30,0.6],[32,0.35],[34,0.55],[36,0.2],[38,0.45],[40,0.3],[42,0.5],[44,0.2],[46,0.35],[48,0.15],[50,0.4],[52,0.15],[55,0.3],[58,0.2],[60,0.35],[62,0.12],[64,0.7],[66,0.15],[68,0.3],[70,0.12],[72,0.5],[74,0.15],[77,0.2],[80,0.1],[84,0.22],[88,0.12],[92,0.28],[96,0.1],[100,0.2],[105,0.1],[110,0.18],[115,0.08],[120,0.15],[125,0.1],[130,0.2],[135,0.08],[140,0.15],[145,0.09],[150,0.12],[160,0.08],[170,0.12],[180,0.07],[190,0.12],[200,0.06],[210,0.1],[220,0.07],[230,0.1],[240,0.06],[250,0.08]];
const iRSA = [[0,2.3],[2,1.5],[4,1.1],[6,0.85],[8,0.72],[10,0.64],[15,0.53],[20,0.47],[25,0.42],[30,0.38],[40,0.33],[50,0.29],[60,0.26],[75,0.23],[100,0.2],[125,0.17],[150,0.15],[175,0.13],[200,0.11],[225,0.1],[250,0.09]];
const iLocal = [[0,2.3],[1,1.9],[2,1.5],[3,1.15],[4,0.85],[5,0.6],[6,0.42],[7,0.3],[8,0.22],[10,0.14],[15,0.1],[20,0.08],[50,0.05],[100,0.04],[250,0.03]];
const iLp1 = [[0,2.3],[1,0.6],[2,0.15],[3,0.06],[5,0.03],[10,0.02],[50,0.01],[250,0.01]];
const iLp2 = [[0,2.3],[1,0.5],[2,0.12],[3,0.05],[5,0.02],[10,0.01],[250,0.005]];
const iPFedMe = [[0,2.3],[1,0.8],[2,0.3],[3,0.18],[5,0.13],[10,0.11],[20,0.1],[50,0.09],[100,0.075],[150,0.065],[200,0.055],[250,0.05]];

// (j) MNIST, Test Acc
const jDitto = [[0,0.1],[1,0.35],[2,0.6],[3,0.8],[4,0.9],[6,0.95],[8,0.965],[10,0.97],[20,0.975],[50,0.98],[100,0.982],[250,0.985]];
const jFedAvg = [[0,0.1],[2,0.3],[3,0.53],[4,0.3],[5,0.6],[6,0.31],[7,0.55],[8,0.3],[10,0.5],[12,0.6],[13,0.48],[15,0.72],[17,0.65],[18,0.75],[20,0.66],[22,0.8],[24,0.61],[26,0.78],[28,0.82],[30,0.72],[32,0.8],[34,0.76],[36,0.84],[38,0.75],[40,0.83],[43,0.86],[46,0.84],[50,0.87],[55,0.88],[60,0.87],[63,0.82],[65,0.88],[70,0.89],[75,0.88],[80,0.9],[90,0.9],[100,0.91],[125,0.92],[150,0.925],[175,0.93],[200,0.935],[225,0.94],[250,0.94]];
const jLG = [[0,0.1],[1,0.25],[2,0.4],[3,0.5],[4,0.6],[6,0.72],[8,0.8],[10,0.85],[13,0.89],[16,0.92],[20,0.94],[25,0.955],[30,0.963],[40,0.97],[50,0.972],[100,0.975],[250,0.978]];
const jPerFedavg = [[0,0.85],[2,0.8],[4,0.82],[6,0.86],[8,0.8],[10,0.87],[12,0.83],[14,0.88],[16,0.84],[18,0.9],[20,0.86],[22,0.81],[24,0.89],[26,0.86],[28,0.91],[30,0.88],[32,0.92],[34,0.89],[36,0.93],[38,0.9],[40,0.92],[43,0.94],[46,0.91],[50,0.93],[53,0.95],[56,0.92],[60,0.95],[63,0.93],[66,0.96],[70,0.92],[73,0.95],[76,0.94],[80,0.96],[85,0.94],[90,0.97],[95,0.95],[100,0.96],[105,0.94],[110,0.97],[120,0.96],[130,0.975],[140,0.96],[150,0.97],[160,0.975],[170,0.965],[180,0.975],[190,0.97],[200,0.975],[210,0.965],[220,0.975],[230,0.97],[240,0.975],[250,0.975]];
const jRSA = [[0,0.1],[1,0.5],[2,0.7],[3,0.71],[4,0.73],[6,0.8],[8,0.86],[10,0.89],[13,0.92],[16,0.94],[20,0.955],[25,0.965],[30,0.97],[50,0.975],[100,0.978],[250,0.98]];
const jLocal = [[0,0.1],[1,0.5],[2,0.75],[3,0.84],[4,0.87],[6,0.9],[8,0.92],[10,0.93],[15,0.95],[20,0.965],[30,0.973],[50,0.977],[100,0.979],[250,0.98]];
const jLp1 = [[0,0.1],[1,0.6],[2,0.85],[3,0.95],[4,0.975],[10,0.98],[50,0.983],[250,0.985]];
const jLp2 = [[0,0.1],[1,0.55],[2,0.83],[3,0.94],[4,0.97],[10,0.978],[50,0.982],[250,0.984]];
const jPFedMe = [[0,0.1],[1,0.6],[2,0.88],[3,0.94],[5,0.96],[10,0.97],[50,0.975],[250,0.978]];

// (k) FASHIONMNIST, Train Loss
const kDitto = [[0,2.3],[1,1.0],[2,0.6],[3,0.4],[4,0.3],[6,0.2],[8,0.15],[10,0.12],[13,0.1],[16,0.08],[20,0.06],[25,0.05],[30,0.04],[40,0.03],[60,0.03],[80,0.02],[100,0.02],[150,0.02],[200,0.02]];
const kFedAvg = [[0,2.3],[5,2.24],[10,2.16],[15,2.07],[18,2.0],[20,1.92],[22,1.85],[24,1.72],[26,1.68],[28,1.58],[30,1.5],[32,1.45],[34,1.38],[36,1.42],[38,1.28],[40,1.22],[42,1.18],[44,1.1],[46,1.12],[48,1.02],[50,0.98],[52,1.0],[54,0.92],[56,0.95],[58,0.86],[60,0.84],[63,0.8],[66,0.76],[70,0.7],[73,0.68],[76,0.65],[78,0.85],[80,0.62],[83,0.6],[86,0.58],[90,0.54],[93,0.52],[96,0.5],[100,0.46],[104,0.45],[108,0.42],[112,0.44],[116,0.38],[120,0.4],[124,0.36],[126,0.45],[128,0.33],[132,0.36],[136,0.3],[140,0.3],[144,0.28],[148,0.26],[150,0.24],[154,0.22],[157,0.2],[160,0.36],[162,0.2],[165,0.34],[168,0.17],[172,0.15],[176,0.15],[180,0.14],[185,0.13],[190,0.12],[194,0.25],[197,0.12],[200,0.14]];
const kLG = [[0,2.3],[3,2.2],[6,2.0],[8,1.85],[10,1.68],[12,1.52],[15,1.28],[18,1.0],[20,0.83],[22,0.7],[25,0.52],[28,0.37],[30,0.29],[33,0.2],[35,0.15],[38,0.1],[40,0.07],[45,0.04],[50,0.03],[70,0.02],[200,0.01]];
const kPerFedavg = [[0,2.3],[2,1.2],[3,0.5],[5,0.4],[8,0.3],[10,0.25],[15,0.2],[20,0.18],[30,0.16],[40,0.17],[45,0.14],[50,0.16],[55,0.15],[60,0.17],[65,0.15],[70,0.17],[80,0.16],[90,0.18],[100,0.17],[110,0.18],[120,0.17],[130,0.18],[140,0.17],[150,0.18],[160,0.17],[170,0.19],[180,0.18],[190,0.17],[200,0.16]];
const kRSA = [[0,2.3],[1,1.2],[2,0.5],[3,0.35],[4,0.45],[5,0.3],[6,0.42],[7,0.28],[8,0.38],[9,0.26],[10,0.35],[11,0.24],[12,0.32],[14,0.22],[16,0.3],[18,0.2],[20,0.26],[22,0.18],[24,0.23],[26,0.15],[28,0.2],[30,0.13],[33,0.16],[36,0.11],[40,0.13],[45,0.09],[50,0.1],[55,0.07],[60,0.08],[65,0.06],[70,0.07],[75,0.05],[80,0.06],[90,0.05],[100,0.05],[110,0.04],[120,0.05],[130,0.04],[140,0.04],[150,0.04],[160,0.03],[170,0.04],[180,0.03],[190,0.04],[200,0.03]];
const kLocal = [[0,2.3],[1,1.8],[2,1.55],[3,1.4],[4,1.35],[5,1.33],[6,1.3],[7,1.2],[8,1.1],[10,0.9],[12,0.75],[14,0.62],[16,0.45],[18,0.33],[20,0.24],[22,0.17],[25,0.1],[30,0.06],[40,0.04],[60,0.03],[100,0.02],[200,0.02]];
const kLp1 = [[0,2.3],[1,0.5],[2,0.12],[3,0.05],[5,0.03],[10,0.02],[30,0.02],[52,0.02],[53,0.33],[54,0.02],[65,0.02],[66,0.08],[67,0.02],[100,0.02],[150,0.015],[200,0.015]];
const kLp2 = [[0,2.3],[1,0.45],[2,0.1],[3,0.04],[5,0.02],[10,0.015],[40,0.02],[45,0.1],[46,0.02],[80,0.02],[81,0.08],[82,0.02],[120,0.015],[200,0.01]];
const kPFedMe = [[0,2.3],[1,0.4],[2,0.1],[3,0.04],[5,0.03],[20,0.02],[23,0.05],[24,0.02],[50,0.03],[100,0.02],[140,0.02],[141,0.06],[142,0.02],[156,0.02],[157,0.12],[158,0.02],[185,0.02],[188,0.02],[189,1.43],[190,0.02],[192,0.35],[193,0.02],[196,0.03],[200,0.03]];

// (l) FASHIONMNIST, Test Acc
const lDitto = [[0,0.1],[1,0.35],[2,0.6],[3,0.75],[4,0.85],[5,0.9],[6,0.93],[8,0.95],[10,0.96],[20,0.965],[50,0.968],[100,0.97],[200,0.97]];
const lFedAvg = [[0,0.1],[2,0.25],[3,0.2],[4,0.3],[5,0.22],[6,0.34],[7,0.2],[8,0.3],[10,0.28],[12,0.35],[14,0.3],[16,0.38],[18,0.4],[20,0.44],[22,0.4],[24,0.5],[26,0.45],[28,0.55],[30,0.5],[32,0.58],[34,0.52],[36,0.62],[38,0.55],[40,0.65],[42,0.6],[44,0.68],[46,0.62],[48,0.7],[50,0.68],[53,0.72],[56,0.67],[59,0.76],[62,0.7],[65,0.78],[68,0.74],[71,0.79],[74,0.75],[77,0.82],[78,0.67],[80,0.82],[83,0.84],[86,0.83],[89,0.86],[92,0.84],[95,0.88],[98,0.85],[101,0.9],[104,0.86],[107,0.9],[110,0.84],[113,0.9],[116,0.87],[119,0.92],[122,0.88],[125,0.92],[128,0.89],[131,0.93],[134,0.9],[137,0.93],[140,0.91],[143,0.94],[146,0.92],[149,0.95],[152,0.92],[155,0.95],[158,0.94],[161,0.88],[164,0.96],[166,0.84],[168,0.95],[172,0.94],[176,0.96],[180,0.95],[184,0.96],[188,0.95],[192,0.96],[196,0.9],[198,0.96],[200,0.96]];
const lLG = [[0,0.1],[2,0.2],[3,0.45],[4,0.42],[5,0.6],[6,0.5],[7,0.64],[8,0.62],[10,0.72],[12,0.75],[14,0.8],[16,0.82],[18,0.86],[20,0.89],[25,0.93],[30,0.95],[40,0.96],[60,0.965],[200,0.968]];
const lPerFedavg = [[0,0.1],[1,0.5],[2,0.75],[3,0.83],[4,0.88],[6,0.92],[8,0.93],[10,0.94],[15,0.945],[20,0.95],[30,0.955],[40,0.953],[50,0.948],[60,0.944],[70,0.952],[80,0.946],[90,0.95],[100,0.944],[110,0.95],[120,0.945],[130,0.952],[140,0.944],[150,0.95],[160,0.946],[170,0.952],[180,0.945],[190,0.95],[200,0.948]];
const lRSA = [[0,0.1],[1,0.4],[2,0.6],[3,0.7],[4,0.76],[6,0.84],[8,0.88],[10,0.9],[12,0.91],[14,0.92],[16,0.925],[18,0.935],[20,0.94],[25,0.95],[30,0.955],[40,0.96],[50,0.962],[60,0.958],[70,0.963],[80,0.96],[100,0.962],[120,0.958],[140,0.962],[160,0.96],[180,0.962],[200,0.96]];
const lLocal = [[0,0.1],[1,0.3],[2,0.5],[3,0.62],[4,0.7],[6,0.78],[8,0.84],[10,0.88],[12,0.9],[15,0.92],[20,0.94],[25,0.95],[30,0.955],[50,0.96],[100,0.963],[200,0.965]];
const lLp1 = [[0,0.1],[1,0.55],[2,0.85],[3,0.93],[4,0.955],[6,0.965],[10,0.97],[50,0.972],[100,0.974],[200,0.975]];
const lLp2 = [[0,0.1],[1,0.5],[2,0.82],[3,0.92],[4,0.95],[6,0.962],[10,0.968],[50,0.97],[100,0.972],[200,0.973]];
const lPFedMe = [[0,0.1],[1,0.6],[2,0.88],[3,0.94],[5,0.96],[10,0.965],[50,0.97],[100,0.972],[200,0.975]];


// VARIABLES //

const W = 1114;
const H = 823;

const COLORS = {
	'Ditto': '#1f77b4',
	'FedAvg': '#d62728',
	'LG-FedAvg': '#bcbd22',
	'Per-fedavg': '#2ca02c',
	'RSA': '#7f7f7f',
	'local': '#9467bd',
	'lp-Proj-1': '#e377c2',
	'lp-Proj-2': '#8c564b',
	'pFedMe': '#ff7f0e'
};

// Line weights: thin by default, 'm' medium, 'h' wide and faded, 'b' wide and strong.
const WEIGHTS = {
	base: { w: 1, o: 1 },
	m: { w: 1.5, o: 0.85 },
	h: { w: 2, o: 0.5 },
	b: { w: 2.6, o: 0.8 }
};

const TICK_FONT = '"DejaVu Sans", sans-serif';
const CAPTION_FONT = '"Liberation Serif", "Times New Roman", serif';
const CAPTION_SIZE = 25;
const CAPTION_STEP = 28;

// Each panel: axes box [left, top, right, bottom] in px.
// `key` styles the legend handles, `plot` styles the drawn lines.
const PANELS = [
	{ id: 'a', box: [ 42, 2, 254, 154 ], xTicks: X_TICKS_250, yDomain: [ -0.07, 2.59 ], yTicks: Y_TICKS_A, fmt: '.1f', yLabel: 'Train_Loss', legend: 'upper', names: METHODS_8, data: [ aDitto, aFedAvg, aPerFedavg, aRSA, aLocal, aLp1, aLp2, aPFedMe ],
		key: { 'RSA': 'h', 'Per-fedavg': 'm', 'local': 'm', 'lp-Proj-1': 'm', 'pFedMe': 'm' }, plot: { 'RSA': 'h', 'local': 'm', 'Per-fedavg': 'm' } },
	{ id: 'b', box: [ 324, 2, 532, 154 ], xTicks: X_TICKS_250, yDomain: [ 0.03, 0.93 ], yTicks: Y_TICKS_ACC, fmt: '.1f', yLabel: 'Test_Acc', legend: 'lower', names: METHODS_8, data: [ bDitto, bFedAvg, bPerFedavg, bRSA, bLocal, bLp1, bLp2, bPFedMe ],
		key: { 'Ditto': 'h', 'lp-Proj-1': 'h', 'lp-Proj-2': 'h', 'local': 'm' }, plot: { 'local': 'm' } },
	{ id: 'c', box: [ 598, 2, 818, 154 ], xTicks: X_TICKS_250, yDomain: [ -0.45, 9.8 ], yTicks: Y_TICKS_C, fmt: 'd', yLabel: 'Train_Loss', legend: 'upper', names: METHODS_8, data: [ cDitto, cFedAvg, cPerFedavg, cRSA, cLocal, cLp1, cLp2, cPFedMe ],
		key: { 'RSA': 'h', 'Per-fedavg': 'm', 'local': 'm', 'pFedMe': 'm', 'FedAvg': 'm' }, plot: { 'Per-fedavg': 'm', 'local': 'm', 'FedAvg': 'm' } },
	{ id: 'd', box: [ 889, 2, 1101, 154 ], xTicks: X_TICKS_250, yDomain: [ 0.026, 0.938 ], yTicks: Y_TICKS_ACC, fmt: '.1f', yLabel: 'Test_Acc', legend: 'lower', names: METHODS_8, data: [ dDitto, dFedAvg, dPerFedavg, dRSA, dLocal, dLp1, dLp2, dPFedMe ],
		key: { 'Ditto': 'h', 'lp-Proj-1': 'h', 'lp-Proj-2': 'h', 'local': 'm' }, plot: { 'local': 'm' } },
	{ id: 'e', box: [ 33, 299, 254, 449 ], xTicks: X_TICKS_250, yDomain: [ -0.17, 4.96 ], yTicks: Y_TICKS_E, fmt: 'd', yLabel: 'Train_Loss', legend: 'upper', names: METHODS_9, data: [ eDitto, eFedAvg, eLG, ePerFedavg, eRSA, eLocal, eLp1, eLp2, ePFedMe ],
		key: { 'Per-fedavg': 'm', 'pFedMe': 'h' }, plot: { 'Per-fedavg': 'm' } },
	{ id: 'f', box: [ 324, 299, 533, 449 ], xTicks: X_TICKS_250, yDomain: [ -0.04, 0.958 ], yTicks: Y_TICKS_F, fmt: '.1f', yLabel: 'Test_Acc', legend: 'lower', names: METHODS_9, data: [ fDitto, fFedAvg, fLG, fPerFedavg, fRSA, fLocal, fLp1, fLp2, fPFedMe ],
		key: { 'FedAvg': 'h', 'lp-Proj-1': 'h', 'lp-Proj-2': 'h' }, plot: {} },
	{ id: 'g', box: [ 598, 299, 818, 449 ], xTicks: X_TICKS_250, yDomain: [ -0.19, 4.2 ], yTicks: Y_TICKS_E, fmt: 'd', yLabel: 'Train_Loss', legend: 'upper', names: METHODS_9, data: [ gDitto, gFedAvg, gLG, gPerFedavg, gRSA, gLocal, gLp1, gLp2, gPFedMe ],
		key: { 'RSA': 'h', 'Per-fedavg': 'm', 'pFedMe': 'b' }, plot: { 'Per-fedavg': 'm', 'pFedMe': 'b' } },
	{ id: 'h', box: [ 888, 299, 1101, 449 ], xTicks: X_TICKS_250, yDomain: [ 0.058, 0.836 ], yTicks: Y_TICKS_H, fmt: '.1f', yLabel: 'Test_Acc', legend: 'lower', names: METHODS_9, data: [ hDitto, hFedAvg, hLG, hPerFedavg, hRSA, hLocal, hLp1, hLp2, hPFedMe ],
		key: { 'FedAvg': 'm', 'LG-FedAvg': 'm', 'lp-Proj-1': 'h', 'lp-Proj-2': 'h', 'pFedMe': 'b' }, plot: { 'pFedMe': 'b' } },
	{ id: 'i', box: [ 43, 567, 254, 719 ], xTicks: X_TICKS_250, yDomain: [ -0.12, 2.44 ], yTicks: Y_TICKS_I, fmt: '.1f', yLabel: 'Train_Loss', legend: 'upper', names: METHODS_9, data: [ iDitto, iFedAvg, iLG, iPerFedavg, iRSA, iLocal, iLp1, iLp2, iPFedMe ],
		key: { 'FedAvg': 'h', 'LG-FedAvg': 'h', 'lp-Proj-1': 'h', 'lp-Proj-2': 'h' }, plot: {} },
	{ id: 'j', box: [ 324, 567, 533, 719 ], xTicks: X_TICKS_250, yDomain: [ 0.02, 1.033 ], yTicks: Y_TICKS_J, fmt: '.1f', yLabel: 'Test_Acc', legend: 'lower', names: METHODS_9, data: [ jDitto, jFedAvg, jLG, jPerFedavg, jRSA, jLocal, jLp1, jLp2, jPFedMe ],
		key: { 'Ditto': 'h', 'RSA': 'm', 'local': 'h' }, plot: {} },
	{ id: 'k', box: [ 606, 567, 817, 719 ], xTicks: X_TICKS_200, yDomain: [ -0.12, 2.44 ], yTicks: Y_TICKS_I, fmt: '.1f', yLabel: 'Train_Loss', legend: 'upper', names: METHODS_9, data: [ kDitto, kFedAvg, kLG, kPerFedavg, kRSA, kLocal, kLp1, kLp2, kPFedMe ],
		key: { 'FedAvg': 'h', 'LG-FedAvg': 'h', 'lp-Proj-1': 'h', 'lp-Proj-2': 'h', 'pFedMe': 'm' }, plot: {} },
	{ id: 'l', box: [ 889, 567, 1100, 719 ], xTicks: X_TICKS_200, yDomain: [ 0.02, 1.027 ], yTicks: Y_TICKS_J, fmt: '.1f', yLabel: 'Test_Acc', legend: 'lower', names: METHODS_9, data: [ lDitto, lFedAvg, lLG, lPerFedavg, lRSA, lLocal, lLp1, lLp2, lPFedMe ],
		key: { 'Ditto': 'h', 'RSA': 'm', 'local': 'h' }, plot: {} }
];

// Sub-figure captions. Two-line ones are spread over [x, x + w] with a
// centred second line; one-line ones are centred on cx.
const CAPTIONS = [
	{ tag: '(a)', l1: 'Synthetic(0, 0),', l2: 'Train Loss', x: 5, w: 260, cx: 135, y: 224 },
	{ tag: '(b)', l1: 'Synthetic(0, 0), Test', l2: 'Acc', x: 282, w: 262, cx: 427, y: 224 },
	{ tag: '(c)', l1: 'Synthetic(1, 1),', l2: 'Train Loss', x: 578, w: 222, cx: 718, y: 224 },
	{ tag: '(d)', l1: 'Synthetic(0, 0), Test', l2: 'Acc', x: 858, w: 250, cx: 985, y: 224 },
	{ tag: '(e)', l1: 'EMNIST, Train Loss', cx: 136, y: 520 },
	{ tag: '(f)', l1: 'EMNIST, Test Acc', cx: 412, y: 520 },
	{ tag: '(g)', l1: 'CIFAR, Train Loss', cx: 693, y: 520 },
	{ tag: '(h)', l1: 'CIFAR, Test Acc', cx: 975, y: 520 },
	{ tag: '(i)', l1: 'MNIST, Train Loss', cx: 128, y: 788 },
	{ tag: '(j)', l1: 'MNIST, Test Acc', cx: 412, y: 788 },
	{ tag: '(k)', l1: 'FASHIONMNIST,', l2: 'Train Loss', x: 580, w: 235, cx: 718, y: 786 },
	{ tag: '(l)', l1: 'FASHIONMNIST,', l2: 'Test Acc', x: 862, w: 233, cx: 985, y: 786 }
];


// FUNCTIONS //

function weightOf( map, name ) {
	const k = map[ name ];
	return k ? WEIGHTS[ k ] : WEIGHTS.base;
}

function drawPanel( svg, p ) {
	const [ left, top, right, bottom ] = p.box;
	const xmax = p.xTicks[ p.xTicks.length - 1 ];
	const x = d3.scaleLinear()
		.domain([ -0.05 * xmax, 1.05 * xmax ])
		.range([ left, right ]);
	const y = d3.scaleLinear()
		.domain( p.yDomain )
		.range([ bottom, top ]);

	const g = svg.append( 'g' ).attr( 'class', 'panel panel-' + p.id );
	const clipId = 'clip-' + p.id;
	g.append( 'clipPath' ).attr( 'id', clipId )
		.append( 'rect' )
		.attr( 'x', left ).attr( 'y', top )
		.attr( 'width', right - left ).attr( 'height', bottom - top );

	// Grid underneath the lines.
	const grid = g.append( 'g' ).attr( 'class', 'grid' )
		.attr( 'stroke', '#b0b0b0' ).attr( 'stroke-width', 0.8 );
	grid.selectAll( 'line.gx' ).data( p.xTicks ).join( 'line' )
		.attr( 'class', 'gx' )
		.attr( 'x1', d => x( d ) ).attr( 'x2', d => x( d ) )
		.attr( 'y1', top ).attr( 'y2', bottom );
	grid.selectAll( 'line.gy' ).data( p.yTicks ).join( 'line' )
		.attr( 'class', 'gy' )
		.attr( 'x1', left ).attr( 'x2', right )
		.attr( 'y1', d => y( d ) ).attr( 'y2', d => y( d ) );

	const line = d3.line()
		.x( d => x( d[0] ) )
		.y( d => y( d[1] ) )
		.curve( d3.curveMonotoneX );

	const plot = g.append( 'g' ).attr( 'clip-path', `url(#${clipId})` );
	p.names.forEach( ( name, i ) => {
		const wt = weightOf( p.plot, name );
		plot.append( 'path' )
			.datum( p.data[ i ] )
			.attr( 'd', line )
			.attr( 'fill', 'none' )
			.attr( 'stroke', COLORS[ name ] )
			.attr( 'stroke-width', wt.w )
			.attr( 'stroke-opacity', wt.o )
			.attr( 'stroke-linejoin', 'round' );
	});

	// Axes.
	const xAxis = d3.axisBottom( x )
		.tickValues( p.xTicks )
		.tickSize( 3.5 )
		.tickPadding( 3 )
		.tickFormat( d3.format( 'd' ) );
	g.append( 'g' )
		.attr( 'transform', `translate(0,${bottom})` )
		.call( xAxis )
		.call( a => a.select( '.domain' ).remove() );

	const yAxis = d3.axisLeft( y )
		.tickValues( p.yTicks )
		.tickSize( 3.5 )
		.tickPadding( 3 )
		.tickFormat( d3.format( p.fmt ) );
	const ya = g.append( 'g' )
		.attr( 'transform', `translate(${left},0)` )
		.call( yAxis )
		.call( a => a.select( '.domain' ).remove() );

	let tickW = 0;
	ya.selectAll( 'text' ).each( function () {
		tickW = Math.max( tickW, this.getComputedTextLength() );
	});

	g.append( 'rect' )
		.attr( 'x', left ).attr( 'y', top )
		.attr( 'width', right - left ).attr( 'height', bottom - top )
		.attr( 'fill', 'none' )
		.attr( 'stroke', '#000' )
		.attr( 'stroke-width', 0.8 );

	g.append( 'text' )
		.attr( 'x', ( left + right ) / 2 )
		.attr( 'y', bottom + 23.5 )
		.attr( 'text-anchor', 'middle' )
		.style( 'font-family', TICK_FONT )
		.style( 'font-size', '10px' )
		.text( 'Round' );

	const lx = left - tickW - 10.5;
	g.append( 'text' )
		.attr( 'transform', `translate(${lx},${( top + bottom ) / 2}) rotate(-90)` )
		.attr( 'text-anchor', 'middle' )
		.style( 'font-family', TICK_FONT )
		.style( 'font-size', '10px' )
		.text( p.yLabel );

	drawLegend( g, p, right, top, bottom );
}

function drawLegend( g, p, right, top, bottom ) {
	const fs = 7.2;
	const pad = 2.6;
	const rowH = 10.5;
	const handle = 14.4;
	const gap = 5.6;
	const n = p.names.length;

	const lg = g.append( 'g' ).attr( 'class', 'legend' );
	const box = lg.append( 'rect' );
	const labels = lg.selectAll( 'text' ).data( p.names ).join( 'text' )
		.style( 'font-family', TICK_FONT )
		.style( 'font-size', fs + 'px' )
		.attr( 'dy', '0.35em' )
		.text( d => d );

	let textW = 0;
	labels.each( function () {
		textW = Math.max( textW, this.getComputedTextLength() );
	});
	const bw = pad + handle + gap + textW + pad + 1;
	const bh = 2 * pad + n * rowH;
	const bx = right - 0.5 - bw;
	const by = ( p.legend === 'upper' ) ? top + 0.5 : bottom - 1.5 - bh;

	box.attr( 'x', bx ).attr( 'y', by )
		.attr( 'width', bw ).attr( 'height', bh )
		.attr( 'rx', 2 )
		.attr( 'fill', '#fff' ).attr( 'fill-opacity', 0.8 )
		.attr( 'stroke', '#cccccc' ).attr( 'stroke-width', 0.8 );

	const rowY = i => by + pad + rowH * ( i + 0.5 );
	labels.attr( 'x', bx + pad + handle + gap ).attr( 'y', ( d, i ) => rowY( i ) );

	lg.selectAll( 'line' ).data( p.names ).join( 'line' )
		.attr( 'x1', bx + pad ).attr( 'x2', bx + pad + handle )
		.attr( 'y1', ( d, i ) => rowY( i ) ).attr( 'y2', ( d, i ) => rowY( i ) )
		.attr( 'stroke', d => COLORS[ d ] )
		.attr( 'stroke-width', d => weightOf( p.key, d ).w )
		.attr( 'stroke-opacity', d => weightOf( p.key, d ).o );
}

function drawCaption( svg, c ) {
	const t = svg.append( 'text' )
		.attr( 'y', c.y )
		.style( 'font-family', CAPTION_FONT )
		.style( 'font-size', CAPTION_SIZE + 'px' );
	t.append( 'tspan' ).style( 'font-weight', 'bold' ).text( c.tag );
	t.append( 'tspan' ).text( ' ' + c.l1 );

	if ( c.l2 ) {
		// Spread the first line: some letter spacing, a little more in word gaps.
		t.attr( 'x', c.x );
		const full = c.tag + ' ' + c.l1;
		const chars = full.length;
		const gaps = full.split( ' ' ).length - 1;
		const natural = t.node().getComputedTextLength();
		const ls = Math.min( 1.6, Math.max( 0, ( c.w - natural ) / chars ) );
		t.style( 'letter-spacing', ls + 'px' );
		const spaced = natural + ls * chars;
		if ( c.w > spaced && gaps > 0 ) {
			t.style( 'word-spacing', Math.min( 5, ( c.w - spaced ) / gaps ) + 'px' );
		}
		svg.append( 'text' )
			.attr( 'x', c.cx )
			.attr( 'y', c.y + CAPTION_STEP )
			.attr( 'text-anchor', 'middle' )
			.style( 'font-family', CAPTION_FONT )
			.style( 'font-size', CAPTION_SIZE + 'px' )
			.style( 'letter-spacing', '1px' )
			.text( c.l2 );
	} else {
		t.attr( 'x', c.cx )
			.attr( 'text-anchor', 'middle' )
			.style( 'letter-spacing', '1px' );
	}
}


// MAIN //

const svg = d3.select( '#chart' ).append( 'svg' )
	.attr( 'width', W )
	.attr( 'height', H );

PANELS.forEach( p => drawPanel( svg, p ) );
CAPTIONS.forEach( c => drawCaption( svg, c ) );

</script>
</body>
</html>
